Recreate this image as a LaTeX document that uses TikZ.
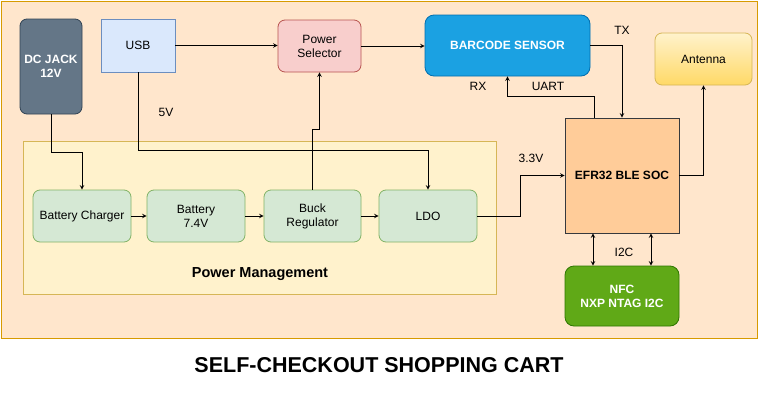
\documentclass[tikz,border=0pt]{standalone}
\usepackage{fontspec}
\setmainfont{Liberation Sans}
\usetikzlibrary{arrows}

\definecolor{bgfill}{HTML}{FFE6CC}
\definecolor{bgdraw}{HTML}{D79B00}
\definecolor{pmfill}{HTML}{FFF2CC}
\definecolor{pmdraw}{HTML}{D6B656}
\definecolor{grfill}{HTML}{D5E8D4}
\definecolor{grdraw}{HTML}{82B366}
\definecolor{jackfill}{HTML}{647687}
\definecolor{jackdraw}{HTML}{314354}
\definecolor{usbfill}{HTML}{DAE8FC}
\definecolor{usbdraw}{HTML}{6C8EBF}
\definecolor{selfill}{HTML}{F8CECC}
\definecolor{seldraw}{HTML}{B85450}
\definecolor{bcfill}{HTML}{1BA1E2}
\definecolor{bcdraw}{HTML}{006EAF}
\definecolor{socfill}{HTML}{FFCC99}
\definecolor{socdraw}{HTML}{36393D}
\definecolor{nfcfill}{HTML}{60A917}
\definecolor{nfcdraw}{HTML}{2D7600}
\definecolor{antbot}{HTML}{FFD966}

\begin{document}
\begin{tikzpicture}[
            x = 1pt, y = -1pt, % pixel grid of the drawing
            > = stealth, % arrow head style
            line width = 1pt,
            font = \fontsize{12}{14}\selectfont
        ]

        \tikzstyle{block}=[
            draw, line width = 0.8pt,
            inner sep = 0pt, align = center,
            minimum width = 98pt, minimum height = 52pt
        ]
        \tikzstyle{round block}=[block, rounded corners = 7pt]
        \tikzstyle{pm block}=[round block, fill = grfill, draw = grdraw]
        \tikzstyle{white text}=[text = white, font = \fontsize{12}{14}\selectfont\bfseries]

        \useasboundingbox (0,0) rectangle (758,407);
        \fill[white] (0,0) rectangle (758,407);
        \draw[bgdraw, fill = bgfill] (1,1) rectangle (757,338);

        % power management group
        \node[block, fill = pmfill, draw = pmdraw, minimum width = 473pt, minimum height = 153pt] (pm) at (259.5,217.5) {};
        \node[font = \fontsize{14.5}{16}\selectfont\bfseries] (pmlabel) at (260,274) {Power Management};

        \node[pm block] (charger) at (82,216) {Battery Charger};
        \node[pm block] (battery) at (196,216) {Battery\\7.4V};
        \node[pm block, minimum width = 97pt] (buck) at (312.5,216) {Buck\\Regulator};
        \node[pm block] (ldo) at (428,216) {LDO};

        % sources
        \node[round block, white text, fill = jackfill, draw = jackdraw, minimum width = 62pt, minimum height = 95pt] (jack) at (51,66.5) {DC JACK\\12V};
        \node[block, fill = usbfill, draw = usbdraw, minimum width = 74pt, minimum height = 53pt] (usb) at (138,45.5) {USB};
        \node[round block, fill = selfill, draw = seldraw, minimum width = 83pt] (selector) at (319.5,46) {Power\\Selector};

        % controller and peripherals
        \node[round block, white text, fill = bcfill, draw = bcdraw, minimum width = 165pt, minimum height = 61pt, rounded corners = 9pt] (barcode) at (507.5,45.5) {BARCODE SENSOR};
        \node[round block, top color = pmfill, bottom color = antbot, draw = pmdraw, minimum width = 97pt] (antenna) at (703.5,59) {Antenna};
        \node[block, fill = socfill, draw = socdraw, minimum width = 114pt, minimum height = 115pt, font = \fontsize{12}{14}\selectfont\bfseries] (soc) at (622,175.5) {EFR32 BLE SOC};
        \node[round block, white text, fill = nfcfill, draw = nfcdraw, minimum width = 114pt, minimum height = 60pt, rounded corners = 9pt] (nfc) at (622,296) {NFC\\NXP NTAG I2C};

        % labels
        \node (l5v) at (166,112) {5V};
        \node (ltx) at (622,30) {TX};
        \node (lrx) at (478,86) {RX};
        \node (luart) at (548,86) {UART};
        \node (l33v) at (531,158) {3.3V};
        \node (li2c) at (624,252) {I2C};

        % connections
        \draw[->] (jack.south) -- ++(0,38) -| (charger.north);
        \draw[->] (usb.east) -- (usb.east -| selector.west);
        \draw[->] (usb.south) -- ++(0,78) -| (ldo.north);
        \draw[->] (buck.north) -- ++(0,-60) -| (selector.south);
        \draw[->] (selector.east) -- (selector.east -| barcode.west);

        \path[->] (charger) edge (battery);
        \path[->] (battery) edge (buck);
        \path[->] (buck) edge (ldo);

        \draw[->] (ldo.east) -- ++(43,0) |- (soc.west);
        \draw[->] (barcode.east) -| (soc.north);
        \draw[->] ([xshift=-28pt]soc.north) -- ++(0,-21) -| (barcode.south);
        \draw[->] (soc.east) -| (antenna.south);

        \draw[<->] ([xshift=-29pt]soc.south) -- ([xshift=-29pt]nfc.north);
        \draw[<->] ([xshift=29pt]soc.south) -- ([xshift=29pt]nfc.north);

        \node[font = \fontsize{21.5}{24}\selectfont\bfseries] (title) at (379,365) {SELF-CHECKOUT SHOPPING CART};
    \end{tikzpicture}
\end{document}
